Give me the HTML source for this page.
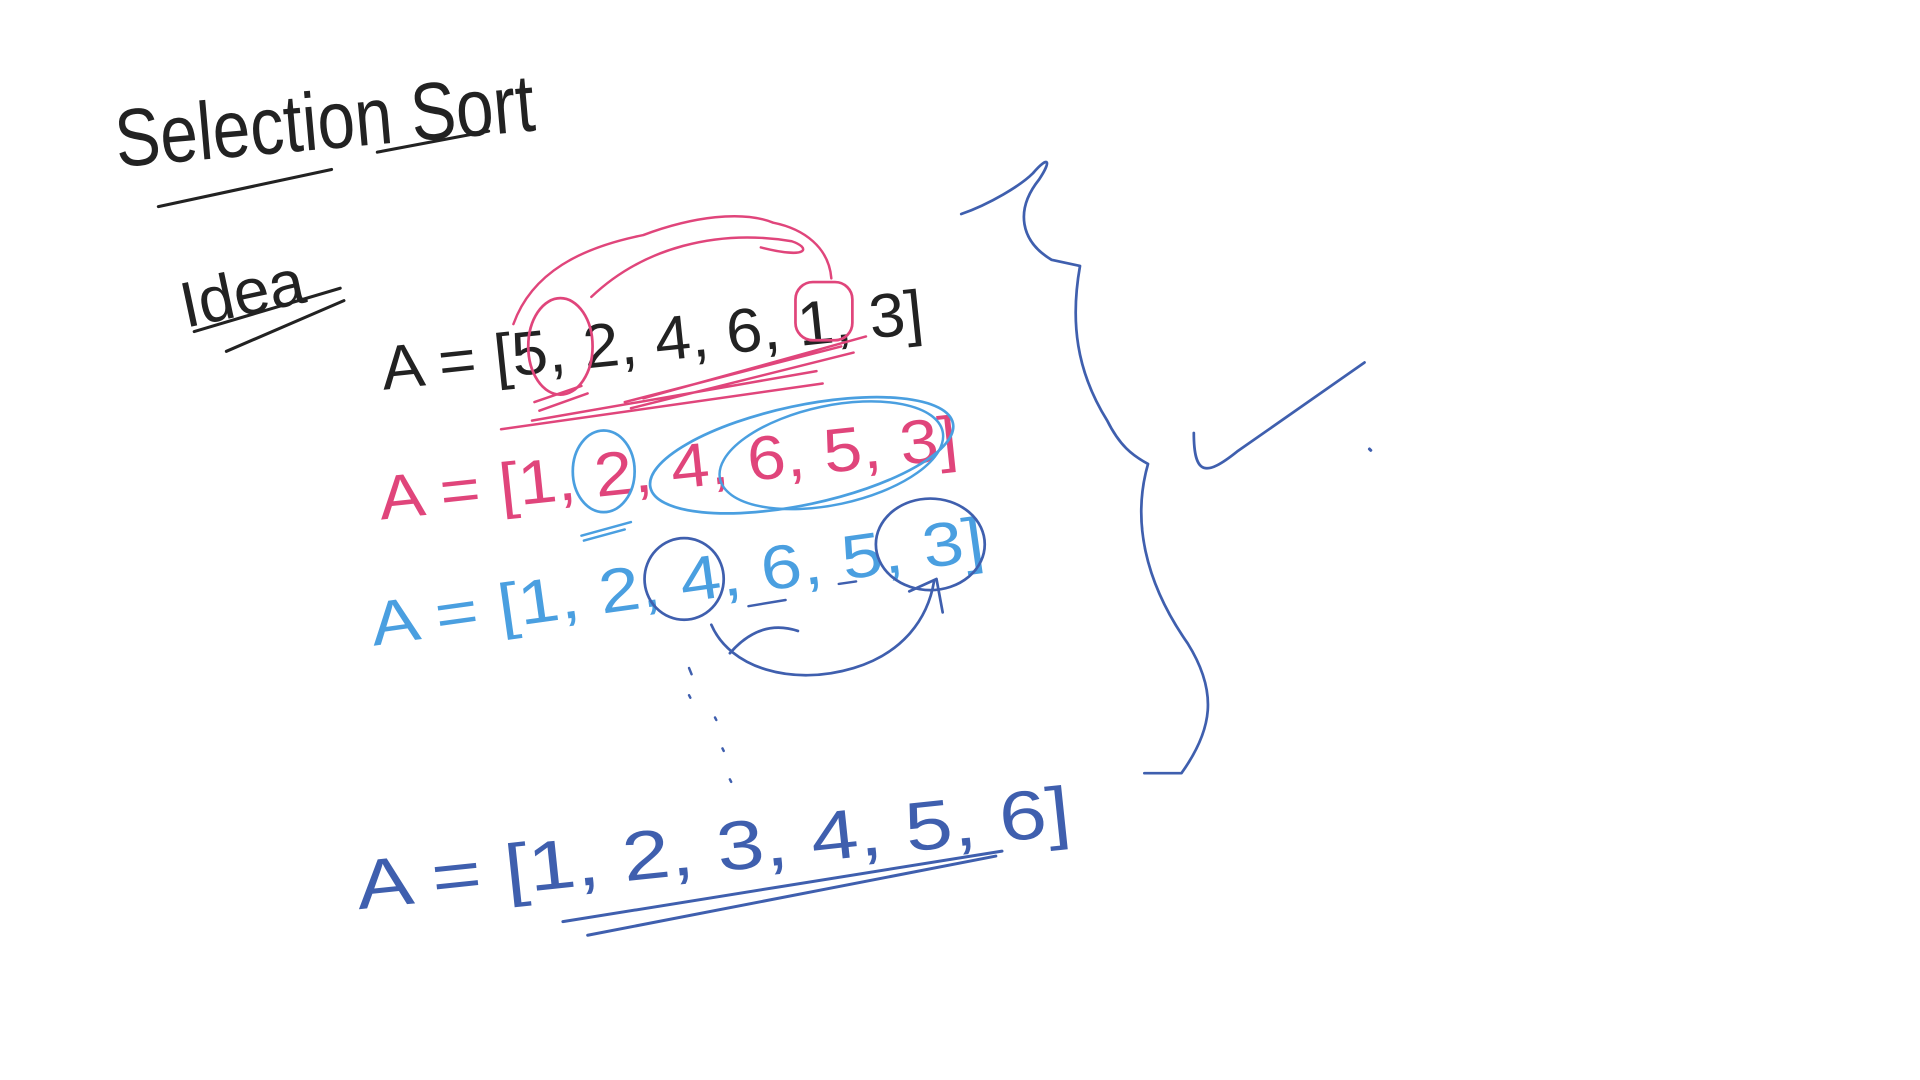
<!DOCTYPE html>
<html><head><meta charset="utf-8"><title>Selection Sort</title>
<style>
html,body{margin:0;padding:0;background:#fff;width:1920px;height:1080px;overflow:hidden}
svg{display:block}
text{font-family:"Liberation Sans","DejaVu Sans",sans-serif;font-weight:normal}
</style></head>
<body>
<svg width="1920" height="1080" viewBox="0 0 1552 873" preserveAspectRatio="none" xmlns="http://www.w3.org/2000/svg">
<rect width="1552" height="873" fill="#fff"/>
<g fill="none" stroke-linecap="round" stroke-linejoin="round">
<!-- title -->
<text x="95" y="135" font-size="66" fill="#222" transform="rotate(-5 95 135)" textLength="340" lengthAdjust="spacingAndGlyphs" style="stroke:none">Selection Sort</text>
<path d="M128 167 L268 137 M305 123 L395 106" stroke="#222" stroke-width="2.5"/>
<text x="150" y="265" font-size="52" fill="#222" transform="rotate(-12 150 265)" style="stroke:none">Idea</text>
<path d="M157 268 L275 233 M183 284 L278 243" stroke="#222" stroke-width="2.5"/>

<!-- row 1 -->
<text x="310" y="315" font-size="50" fill="#222" transform="rotate(-6 310 315)" textLength="440" lengthAdjust="spacingAndGlyphs" style="stroke:none">A = [5, 2, 4, 6, 1, 3]</text>
<ellipse cx="453" cy="280" rx="26" ry="39" stroke="#e0457b" stroke-width="2.2"/>
<rect x="643" y="228" width="46" height="47" rx="14" stroke="#e0457b" stroke-width="2.2"/>
<path d="M415 262 C430 220 470 200 520 190 C560 175 600 170 625 180 C650 185 670 200 672 225 M478 240 C520 200 580 185 640 195 C655 200 655 210 615 200" stroke="#e0457b" stroke-width="2"/>
<path d="M432 325 L470 312 M436 332 L475 318 M505 325 L680 280 M510 330 L690 285 M520 322 L700 272 M405 347 L665 310 M430 340 L660 300" stroke="#e0457b" stroke-width="2"/>

<!-- row 2 -->
<text x="308" y="420" font-size="50" fill="#e0457b" transform="rotate(-6 308 420)" textLength="470" lengthAdjust="spacingAndGlyphs" style="stroke:none">A = [1, 2, 4, 6, 5, 3]</text>
<ellipse cx="488" cy="381" rx="25" ry="33" stroke="#4a9fe0" stroke-width="2.2"/>
<ellipse cx="648" cy="368" rx="125" ry="40" transform="rotate(-12 648 368)" stroke="#4a9fe0" stroke-width="2.2"/>
<ellipse cx="672" cy="368" rx="92" ry="40" transform="rotate(-12 672 368)" stroke="#4a9fe0" stroke-width="2"/>
<path d="M470 433 L510 422 M472 437 L505 428" stroke="#4a9fe0" stroke-width="2"/>

<!-- row 3 -->
<text x="302" y="522" font-size="50" fill="#4a9fe0" transform="rotate(-8 302 522)" textLength="500" lengthAdjust="spacingAndGlyphs" style="stroke:none">A = [1, 2, 4, 6, 5, 3]</text>
<ellipse cx="553" cy="468" rx="32" ry="33" stroke="#3f5fae" stroke-width="2.2"/>
<ellipse cx="752" cy="440" rx="44" ry="37" stroke="#3f5fae" stroke-width="2.2"/>
<path d="M575 505 C590 540 640 555 690 540 C730 528 750 500 755 470 M590 528 C610 505 630 505 645 510 M735 478 L757 468 L762 495" stroke="#3f5fae" stroke-width="2.2"/>
<path d="M605 490 L635 485 M678 472 L692 470" stroke="#3f5fae" stroke-width="2"/>
<path d="M557 540 L559 545 M557 562 L558 564 M578 580 L579 582 M584 605 L585 607 M590 630 L591 632" stroke="#3f5fae" stroke-width="2"/>

<!-- row 4 -->
<text x="290" y="735" font-size="56" fill="#3f5fae" transform="rotate(-6 290 735)" textLength="580" lengthAdjust="spacingAndGlyphs" style="stroke:none">A = [1, 2, 3, 4, 5, 6]</text>
<path d="M455 745 L810 688 M475 756 L805 692" stroke="#3f5fae" stroke-width="2.4"/>

<!-- brace -->
<path d="M777 173 C800 165 825 150 835 140 C848 125 850 130 840 145 C820 170 825 195 850 210 L873 215 C865 260 870 300 895 340 C905 360 915 368 928 375 C915 420 925 470 960 520 C985 560 980 590 955 625 L925 625" stroke="#3f5fae" stroke-width="2.2"/>
<path d="M965 350 C965 385 975 385 1000 365 L1103 293" stroke="#3f5fae" stroke-width="2.2"/>
<path d="M1107 363 L1108 364" stroke="#3f5fae" stroke-width="2.5"/>
</g>
</svg>
</body></html>
